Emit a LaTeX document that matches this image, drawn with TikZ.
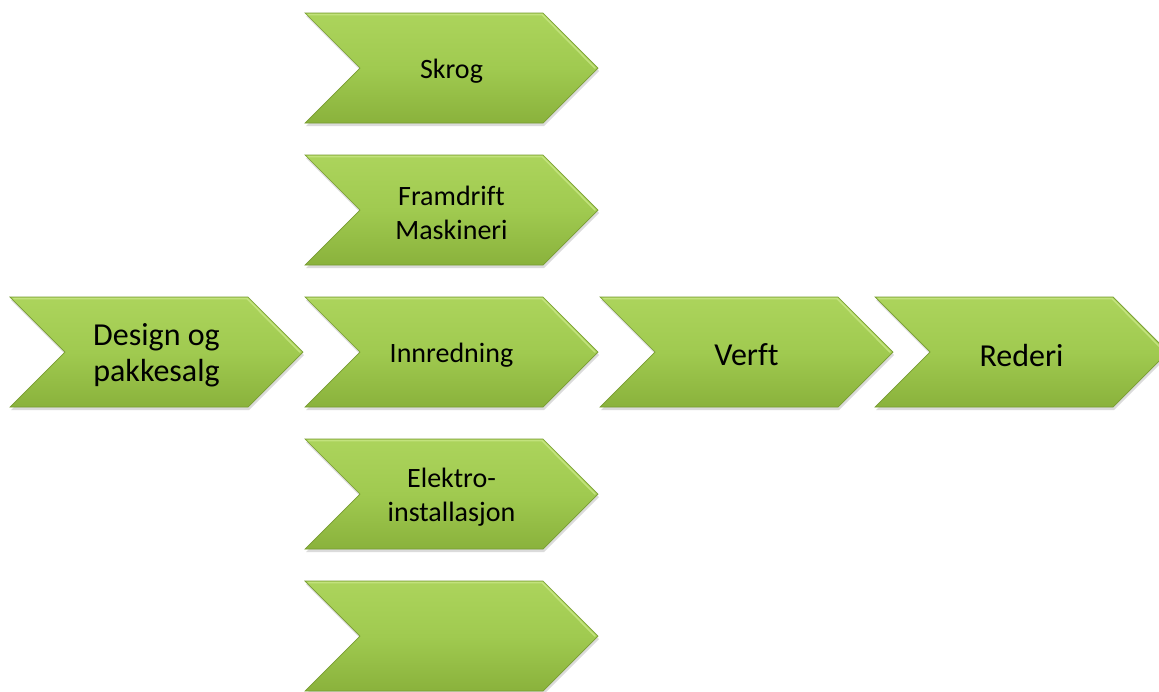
\documentclass[tikz,border=0pt]{standalone}
\usepackage{fontspec}
\setmainfont{Carlito}[Ligatures=NoCommon]
\definecolor{chevtop}{RGB}{172,212,92}
\definecolor{chevmid}{RGB}{160,202,80}
\definecolor{chevbot}{RGB}{138,178,60}
\definecolor{chevedge}{RGB}{120,156,50}
\definecolor{chevhi}{RGB}{194,226,124}
\tikzset{
  chevshadow/.style={fill=black,opacity=0.14},
  chevfill/.style={top color=chevtop,bottom color=chevbot,middle color=chevmid},
  chevline/.style={draw=chevedge,line width=0.7pt,line join=miter},
  chevlight/.style={draw=chevhi,line width=1.6pt,line cap=round},
  smalltext/.style={align=center,font=\fontsize{28}{34}\selectfont,text=black},
  bigtext/.style={align=center,font=\fontsize{32}{36}\selectfont,text=black},
}
\newcommand\chevbox[5]{%
  \fill[chevshadow] ({#2+1},{#3-55+3}) -- ({#2+238+1},{#3-55+3}) -- ({#2+293+1},{#3+3}) -- ({#2+238+1},{#3+55+3}) -- ({#2+1},{#3+55+3}) -- ({#2+55+1},{#3+3}) -- cycle;
  \shade[chevfill] ({#2},{#3-55}) -- ({#2+238},{#3-55}) -- ({#2+293},{#3}) -- ({#2+238},{#3+55}) -- ({#2},{#3+55}) -- ({#2+55},{#3}) -- cycle;
  \draw[chevlight] ({#2+4},{#3-53.5}) -- ({#2+237},{#3-53.5}) -- ({#2+290},{#3});
  \draw[chevline] ({#2},{#3-55}) -- ({#2+238},{#3-55}) -- ({#2+293},{#3}) -- ({#2+238},{#3+55}) -- ({#2},{#3+55}) -- ({#2+55},{#3}) -- cycle;
  \node[#4] (#1) at ({#2+146.5},{#3+3}) {#5};
}
\begin{document}
\begin{tikzpicture}[x=1pt,y=-1pt]
\useasboundingbox[fill=white] (0,0) rectangle (1159,691);
\chevbox{design}{10}{352}{bigtext}{Design og\\pakkesalg}
\chevbox{skrog}{305}{68}{smalltext}{Skrog}
\chevbox{framdrift}{305}{210}{smalltext}{Framdrift\\Maskineri}
\chevbox{innredning}{305}{352}{smalltext}{Innredning}
\chevbox{elektro}{305}{494}{smalltext}{Elektro-\\installasjon}
\chevbox{tom}{305}{636}{smalltext}{}
\chevbox{verft}{600}{352}{bigtext}{Verft}
\chevbox{rederi}{875}{352}{bigtext}{Rederi}
\end{tikzpicture}
\end{document}
